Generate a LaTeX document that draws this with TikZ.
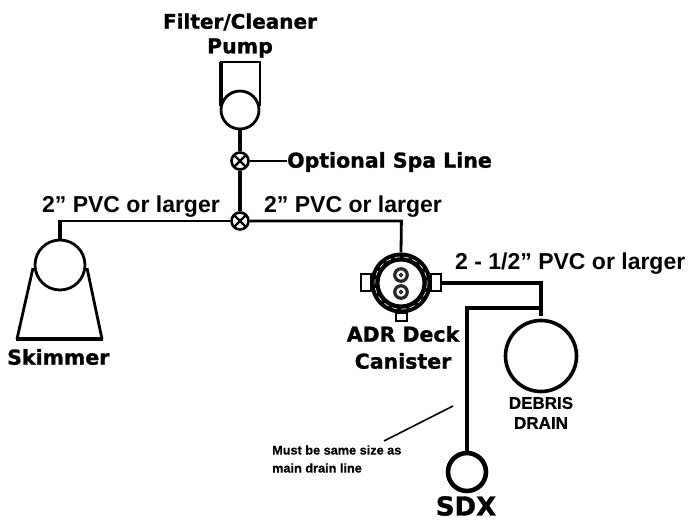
\documentclass[tikz,border=0pt]{standalone}
\usepackage{fontspec}
\setmainfont{Liberation Sans}
\newfontfamily\heavy{DejaVu Sans}[BoldFont={DejaVu Sans Bold},BoldFeatures={FakeBold=1.2}]
\newfontfamily\semi{Liberation Sans}[BoldFont={Liberation Sans Bold},BoldFeatures={FakeBold=0.6}]
\tikzset{
  pipe/.style={draw=black,line width=3.6pt},
  thin pipe/.style={draw=black,line width=2.8pt},
  ring/.style={circle,draw=black,fill=white,line width=2.8pt,inner sep=0pt},
  valve/.style={circle,draw=black,fill=white,line width=2.6pt,inner sep=0pt,minimum size=17pt,path picture={
    \draw[line width=2.2pt] (path picture bounding box.north west)--(path picture bounding box.south east)
      (path picture bounding box.north east)--(path picture bounding box.south west);}},
  pvc/.style={font=\fontsize{23}{23}\selectfont\bfseries,inner sep=0pt},
  black label/.style={font=\heavy\fontsize{20.5}{20.5}\selectfont\bfseries,inner sep=0pt},
  tab/.style={draw=black,fill=white,line width=2pt,inner sep=0pt},
  small label/.style={font=\semi\fontsize{12.7}{12.7}\selectfont\bfseries,inner sep=0pt,anchor=west},
  drain label/.style={font=\semi\fontsize{17}{17}\selectfont\bfseries,inner sep=0pt}
}
\begin{document}
\begin{tikzpicture}[x=1pt,y=-1pt]
\useasboundingbox (0,0) rectangle (691,521);
% Pump
\coordinate (ptl) at (221,62);
\coordinate (ptr) at (260,62);
\draw[draw=black,line width=3.4pt] (221,106) -- (221,62);
\draw[draw=black,line width=2.6pt] (220,62) -- (ptr) -- (260,106);
\node[ring,minimum size=38pt] (pump) at (240,110) {};
\node[valve] (v1) at (240,161) {};
\node[valve] (v2) at (240,221) {};
\draw[pipe] (pump.south) -- (v1.north);
\draw[pipe] (v1.south) -- (v2.north);
\node[black label,anchor=west] (spa) at (287,162) {Optional Spa Line};
\draw[thin pipe] (v1.east) -- (v1.east -| spa.west);
\node[black label,font=\heavy\fontsize{20}{20}\selectfont\bfseries] at (240,22) {Filter/Cleaner};
\node[black label] at (240,48) {Pump};
% Skimmer
\coordinate (sbl) at (17,339);
\coordinate (sbr) at (102,339);
\draw[thin pipe] (33,268) -- (sbl);
\draw[thin pipe] (87,268) -- (sbr);
\draw[draw=black,line width=3.6pt] (15.6,339) -- (103.4,339);
\node[ring,minimum size=50pt] (skim) at (60,265) {};
\node[black label,anchor=west] at (7,357) {Skimmer};
\coordinate (sc) at (60,221);
\draw[pipe] (skim.north) -- (60,222.5);
\draw[thin pipe] (58.2,221) -- (v2.west);
\node[pvc,anchor=east] at (220,207) {2” PVC or larger};
\node[pvc,anchor=west] at (264,207) {2” PVC or larger};
% Canister
\coordinate (cc) at (401,283);
\node[tab,minimum width=10pt,minimum height=17pt] (tl) at (366,283) {};
\node[tab,minimum width=10pt,minimum height=17pt] (tr) at (436,283) {};
\node[tab,minimum width=11pt,minimum height=8pt] (tb) at (401,317) {};
\node[circle,fill=black,minimum size=61pt,inner sep=0pt] (can) at (cc) {};
\draw[white,line width=.6pt,dash pattern=on 5pt off 4pt] (cc) circle (26.2);
\node[circle,fill=white,draw=black,line width=1pt,minimum size=44pt,inner sep=0pt] at (cc) {};
\foreach \y/\n in {275/pa,292/pb}{
  \node[circle,draw=black!85,fill=white,line width=3.2pt,minimum size=12.5pt,inner sep=0pt] (\n) at (401,\y) {};
  \draw[black,line width=1pt] (401,\y) circle (1.6);
}
\draw[thin pipe] (v2.east) -- (401.4,221) -- (can.north);
\node[pvc,anchor=west] at (455,264) {2 - 1/2” PVC or larger};
\node[black label] at (403,334) {ADR Deck};
\node[black label] at (403,361) {Canister};
% Debris drain
\node[ring,minimum size=71pt,line width=3.6pt] (dd) at (541,356) {};
\coordinate (k1) at (541,283);
\coordinate (k2) at (541,308);
\coordinate (k3) at (467,308);
\draw[draw=black,line width=4pt] (tr.east) -- (k1) -- (541,316);
\node[ring,minimum size=38pt,line width=4.6pt] (sdx) at (467,472) {};
\draw[draw=black,line width=4.4pt] (k2) -- (k3) -- (sdx.north);
\node[drain label] at (541,403) {DEBRIS};
\node[drain label] at (541,423) {DRAIN};
\node[font=\heavy\fontsize{26}{26}\selectfont\bfseries,inner sep=0pt] at (466,506) {SDX};
% Note
\node[small label] (n1) at (272,450) {Must be same size as};
\node[small label] (n2) at (272,468) {main drain line};
\coordinate (na) at (384,441);
\coordinate (nb) at (453,406);
\draw[black,line width=1.6pt] (na) -- (nb);
\end{tikzpicture}
\end{document}
